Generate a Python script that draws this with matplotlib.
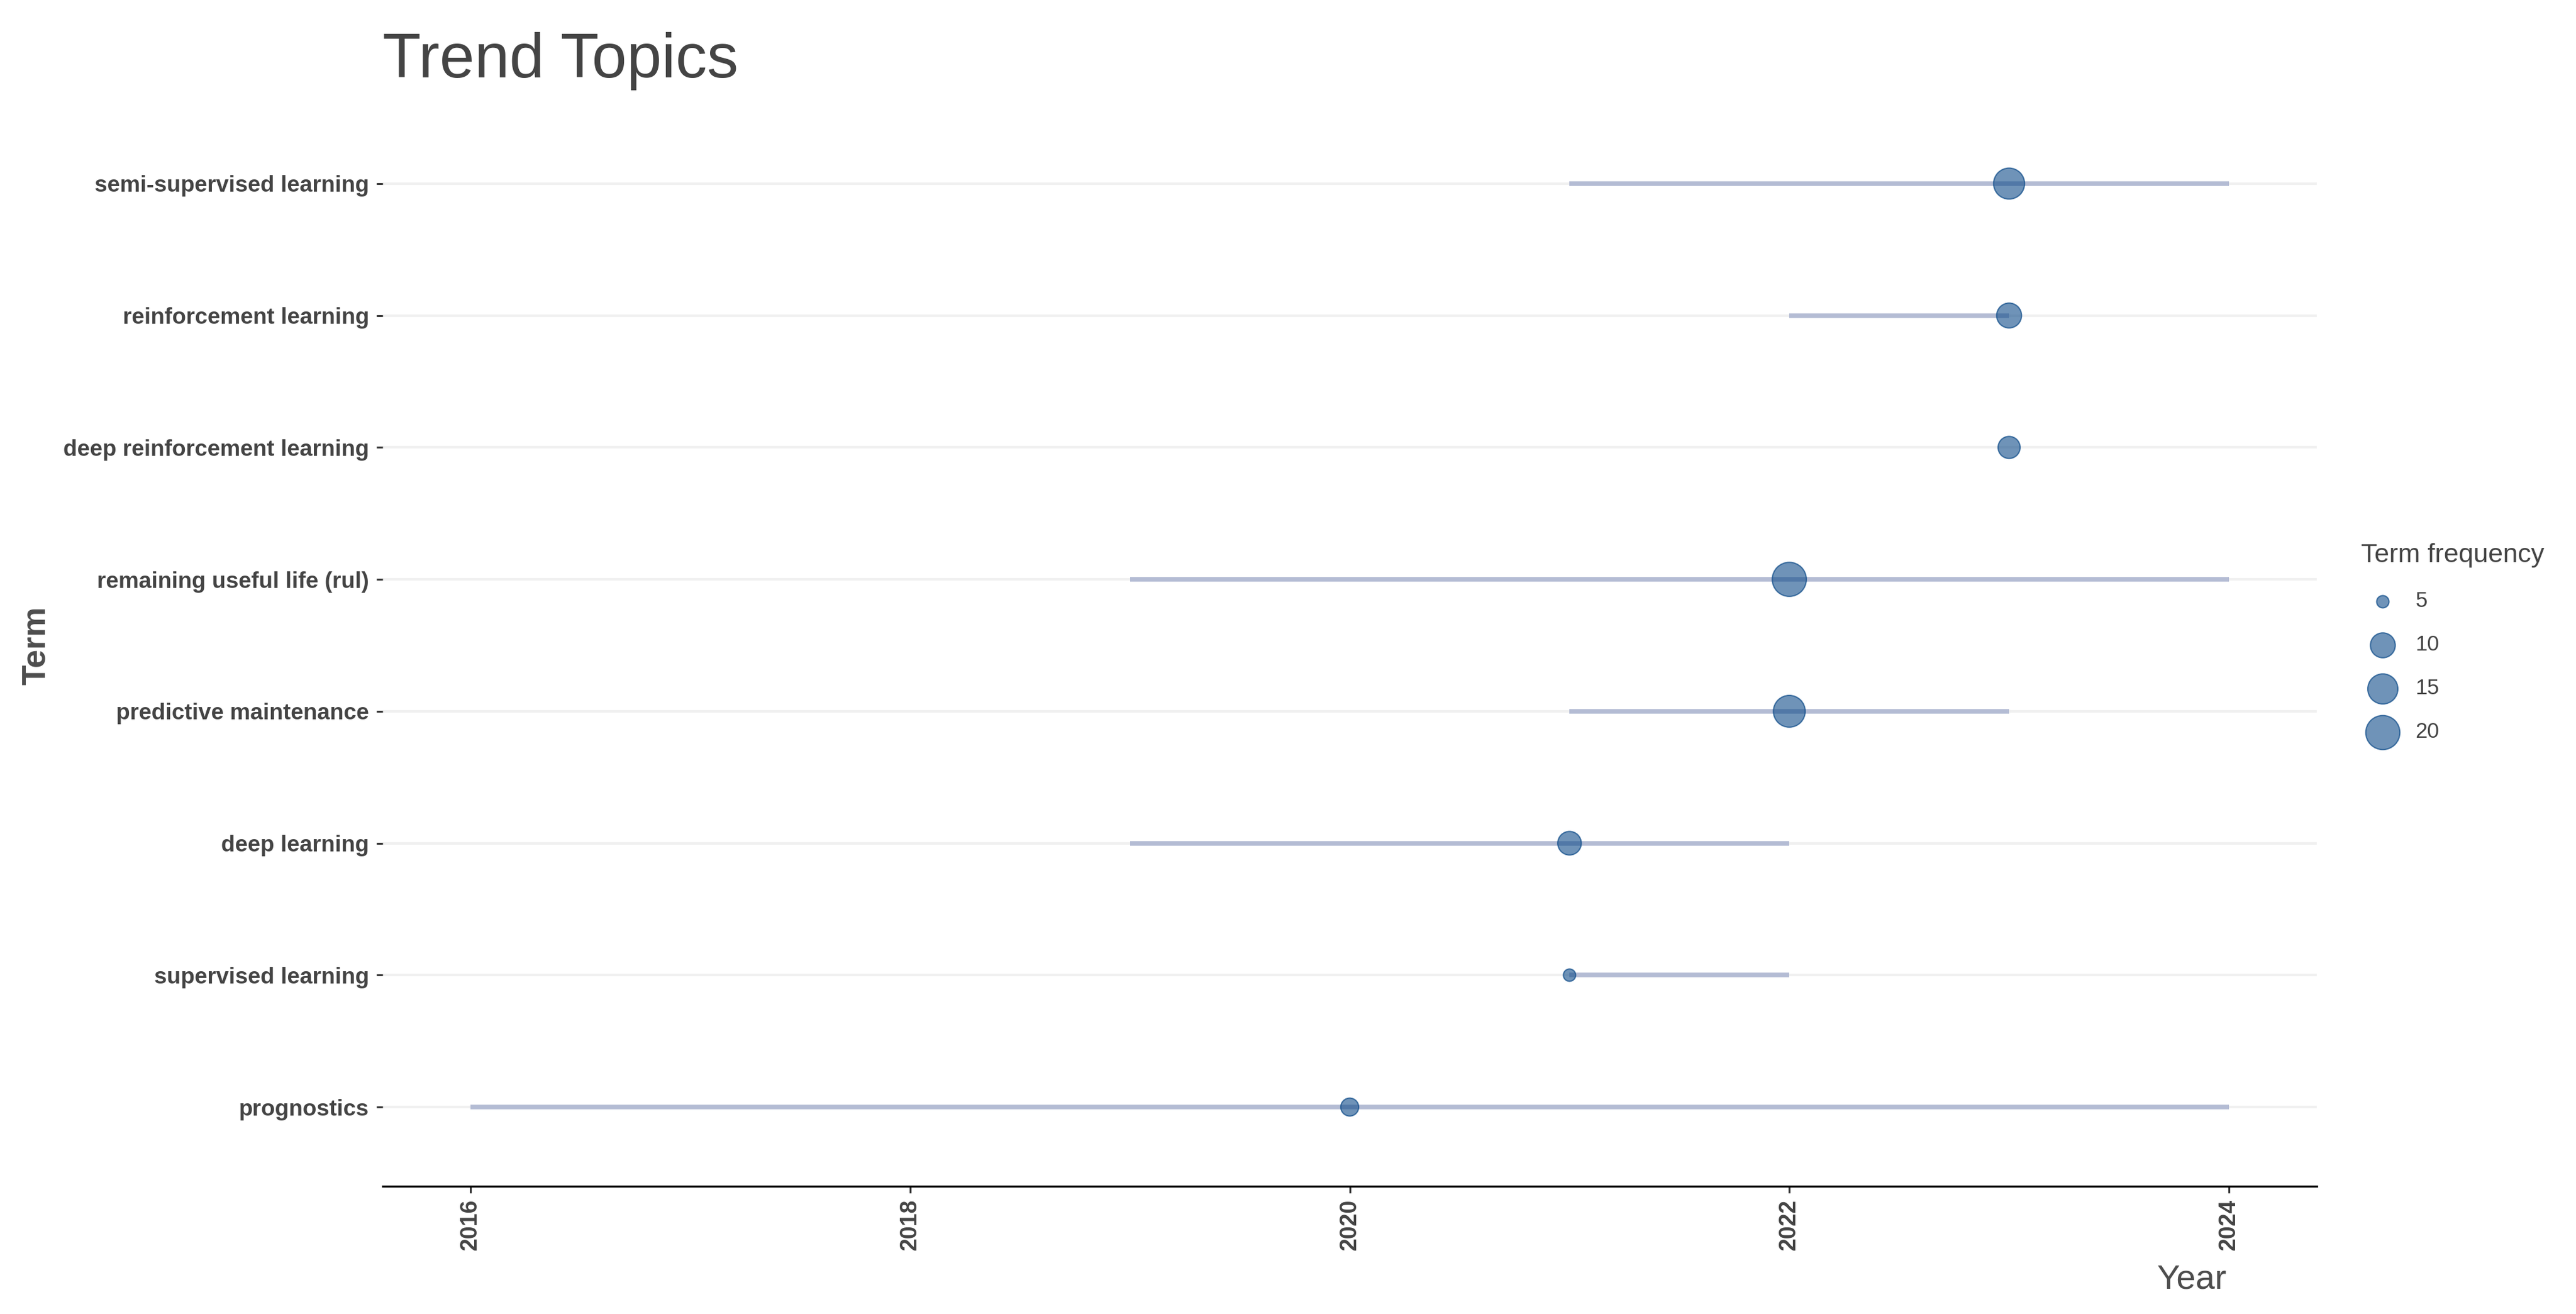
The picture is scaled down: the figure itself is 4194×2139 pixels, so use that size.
import numpy as np
import matplotlib.pyplot as plt

plt.rcParams['font.family'] = ['Liberation Sans', 'DejaVu Sans']

# trend topics, bottom to top
terms = ['prognostics', 'supervised learning', 'deep learning',
         'predictive maintenance', 'remaining useful life (rul)',
         'deep reinforcement learning', 'reinforcement learning',
         'semi-supervised learning']
year_q1 = [2016, 2021, 2019, 2021, 2019, 2023, 2022, 2021]
year_med = [2020, 2021, 2021, 2022, 2022, 2023, 2023, 2023]
year_q3 = [2024, 2022, 2022, 2023, 2024, 2023, 2023, 2024]
term_freq = [6, 5, 9, 17, 20, 8, 10, 16]

legend_levels = [5, 10, 15, 20]
year_ticks = [2016, 2018, 2020, 2022, 2024]

DPI = 300
W, H = 4194, 2139
PX = 72.0 / DPI  # points per pixel


def marker_area(v, vmin=5, vmax=20, dmin=20, dmax=55.5):
    # ggplot-like area scale: diameter grows with sqrt of rescaled value
    t = np.clip((np.asarray(v, float) - vmin) / (vmax - vmin), 0, None)
    d = dmin + (dmax - dmin) * np.sqrt(t)
    return (d * PX) ** 2


fig = plt.figure(figsize=(W / DPI, H / DPI), dpi=DPI)
ax = fig.add_axes([623 / W, 1 - 1931 / H, (3772 - 623) / W, (1931 - 170) / H])

ypos = np.arange(1, len(terms) + 1)

for y in ypos:
    ax.axhline(y, color='#f0f0f0', lw=1.0, zorder=0)

ax.hlines(ypos, year_q1, year_q3, color='#b4bcd4', lw=1.8, zorder=1)

face = (15 / 255, 76 / 255, 137 / 255, 0.6)
edge = (20 / 255, 80 / 255, 140 / 255, 0.75)
ax.scatter(year_med, ypos, s=marker_area(term_freq), facecolor=face,
           edgecolor=edge, linewidth=0.5, zorder=2)

ax.set_xlim(2015.6, 2024.4)
ax.set_ylim(0.4, len(terms) + 0.6)

ax.set_xticks(year_ticks)
ax.set_xticklabels([str(t) for t in year_ticks], rotation=90,
                   fontsize=9, fontweight='bold', color='#444444')
ax.set_yticks(ypos)
ax.set_yticklabels(terms, fontsize=8.9, fontweight='bold', color='#444444')
ax.tick_params(axis='x', length=2.6, width=0.75, color='#333333', pad=2.4)
ax.tick_params(axis='y', length=2.4, width=0.75, color='#333333', pad=2.9)

for side in ['left', 'right', 'top']:
    ax.spines[side].set_visible(False)
ax.spines['bottom'].set_color('black')
ax.spines['bottom'].set_linewidth(0.8)

fig.text(623 / W, 1 - 126 / H, 'Trend Topics', fontsize=24.5,
         color='#444444', ha='left', va='baseline')
fig.text(59 / W, 1 - 1051 / H, 'Term', fontsize=13, fontweight='bold',
         color='#4d4d4d', rotation=90, ha='center', va='center')
fig.text(3625 / W, 1 - 2097 / H, 'Year', fontsize=13.5,
         color='#4d4d4d', ha='right', va='baseline')

handles = [ax.scatter([], [], s=marker_area(v), facecolor=face,
                      edgecolor=edge, linewidth=0.5) for v in legend_levels]
leg = fig.legend(handles, [str(v) for v in legend_levels],
                 title='Term frequency', loc='upper left',
                 bbox_to_anchor=(3819 / W, 1 - 860 / H), frameon=False,
                 fontsize=8.4, title_fontsize=10.4, labelspacing=1.08,
                 handletextpad=0.55, borderpad=0.2, alignment='left')
for t in leg.get_texts():
    t.set_color('#444444')
leg.get_title().set_color('#444444')

fig.savefig('out.png', dpi=DPI, facecolor='white')
